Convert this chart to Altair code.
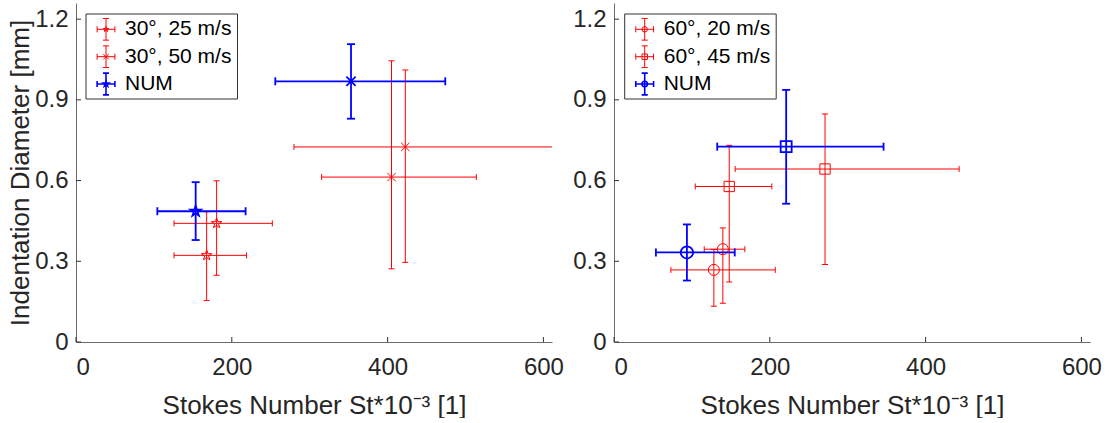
import altair as alt
import pandas as pd

FONT = "Liberation Sans"

# ---------------- data ----------------
left_series = ["30°, 25 m/s", "30°, 25 m/s", "30°, 50 m/s", "30°, 50 m/s", "NUM", "NUM"]
left_marker = ["pentagram", "pentagram", "x", "x", "pentagram", "x"]
left_x = [167.7, 180.5, 405.0, 422.7, 153.6, 353.0]
left_y = [0.322, 0.441, 0.613, 0.725, 0.486, 0.969]
left_xlo = [125.8, 125.8, 315.3, 279.8, 104.4, 255.8]
left_xhi = [219.0, 252.0, 513.9, 720.0, 217.7, 474.0]
left_ylo = [0.154, 0.248, 0.272, 0.296, 0.379, 0.830]
left_yhi = [0.484, 0.599, 1.045, 1.011, 0.594, 1.107]

right_series = ["60°, 20 m/s", "60°, 20 m/s", "60°, 45 m/s", "60°, 45 m/s", "NUM", "NUM"]
right_marker = ["circle", "circle", "square", "square", "circle", "square"]
right_x = [128.2, 139.7, 147.9, 270.9, 93.6, 221.0]
right_y = [0.268, 0.345, 0.578, 0.643, 0.333, 0.726]
right_xlo = [73.0, 115.8, 104.3, 155.5, 53.8, 132.5]
right_xhi = [207.0, 168.0, 202.6, 443.0, 155.0, 346.0]
right_ylo = [0.133, 0.144, 0.223, 0.288, 0.2285, 0.514]
right_yhi = [0.344, 0.424, 0.731, 0.8475, 0.437, 0.937]

left_legend_labels = ["30°, 25 m/s", "30°, 50 m/s", "NUM"]
left_legend_markers = ["pentagram", "x", "pentagram"]
right_legend_labels = ["60°, 20 m/s", "60°, 45 m/s", "NUM"]
right_legend_markers = ["circle", "square", "circle"]

x_ticks = [0, 200, 400, 600]
y_ticks = [0, 0.3, 0.6, 0.9, 1.2]
x_title = "Stokes Number St*10⁻³ [1]"
y_title = "Indentation Diameter [mm]"

# ---------------- styling ----------------
W, H = 476, 339
X_DOMAIN = [0, 611]
Y_DOMAIN = [0, 1.26]
RED, BLUE = "#FF0000", "#0000FF"
AXIS_COLOR = "#6b6b6b"
TEXT_COLOR = "#262626"

PENTAGRAM = ("M0,-1L0.2245,-0.309L0.9511,-0.309L0.3633,0.118L0.5878,0.809L0,0.382"
             "L-0.5878,0.809L-0.3633,0.118L-0.9511,-0.309L-0.2245,-0.309Z")
SHAPE = {"pentagram": PENTAGRAM, "x": "M-1,-1L1,1M-1,1L1,-1",
         "circle": "circle", "square": "square"}
SIZE = {("red", "pentagram"): 120, ("red", "x"): 70, ("red", "circle"): 121, ("red", "square"): 106,
        ("blue", "pentagram"): 120, ("blue", "x"): 85, ("blue", "circle"): 150, ("blue", "square"): 121}
STYLE = {"red": dict(color=RED, sw=1.0, cap=6), "blue": dict(color=BLUE, sw=1.8, cap=8)}
CROSS_PATH = ("M-0.82,0L0.82,0M-0.82,-0.28L-0.82,0.28M0.82,-0.28L0.82,0.28"
              "M0,-1L0,1M-0.28,-1L0.28,-1M-0.28,1L0.28,1")

XSCALE = alt.Scale(domain=X_DOMAIN, nice=False, zero=False)
YSCALE = alt.Scale(domain=Y_DOMAIN, nice=False, zero=False)
XAXIS = alt.Axis(values=x_ticks, tickSize=0, grid=False, domainColor=AXIS_COLOR,
                 labelFont=FONT, labelFontSize=24, labelColor=TEXT_COLOR, labelPadding=13,
                 title=x_title, titleFont=FONT, titleFontSize=26,
                 titleFontWeight="normal", titleColor=TEXT_COLOR, titlePadding=13)


def yaxis(show_title):
    return alt.Axis(values=y_ticks, tickSize=0, grid=False, format=".1f",
                    labelExpr="datum.value == 0 ? '0' : datum.label",
                    domainColor=AXIS_COLOR, labelFont=FONT, labelFontSize=24,
                    labelColor=TEXT_COLOR, labelPadding=8,
                    title=y_title if show_title else "", titleFont=FONT, titleFontSize=26,
                    titleFontWeight="normal", titleColor=TEXT_COLOR, titlePadding=1)


def panel(series, marker, xs, ys, xlo, xhi, ylo, yhi, leg_labels, leg_markers, show_ytitle, lx0):
    df = pd.DataFrame({"series": series, "marker": marker, "cx": xs, "cy": ys,
                       "xlo": xlo, "xhi": xhi, "ylo": ylo, "yhi": yhi})
    df["grp"] = ["blue" if s == "NUM" else "red" for s in df["series"]]
    YAX = yaxis(show_ytitle)

    def X(f):
        return alt.X(f, type="quantitative", scale=XSCALE, axis=XAXIS)

    def Y(f):
        return alt.Y(f, type="quantitative", scale=YSCALE, axis=YAX)

    layers = []
    for grp in ["red", "blue"]:
        st = STYLE[grp]
        sub = alt.Chart(df).transform_filter(alt.datum.grp == grp)
        layers.append(sub.mark_rule(clip=True, color=st["color"], strokeWidth=st["sw"]).encode(
            x=X("xlo"), x2="xhi", y=Y("cy")))
        layers.append(sub.mark_rule(clip=True, color=st["color"], strokeWidth=st["sw"]).encode(
            x=X("cx"), y=Y("ylo"), y2="yhi"))
        for xf, yf, path in [("xlo", "cy", "M0,-1L0,1"), ("xhi", "cy", "M0,-1L0,1"),
                             ("cx", "ylo", "M-1,0L1,0"), ("cx", "yhi", "M-1,0L1,0")]:
            layers.append(sub.mark_point(clip=True, filled=False, opacity=1, shape=path,
                                         size=st["cap"] ** 2, stroke=st["color"],
                                         strokeWidth=st["sw"]).encode(x=X(xf), y=Y(yf)))
        for mk in ["pentagram", "x", "circle", "square"]:
            if ((df["grp"] == grp) & (df["marker"] == mk)).any():
                layers.append(alt.Chart(df).transform_filter(
                    (alt.datum.grp == grp) & (alt.datum.marker == mk)).mark_point(
                    clip=True, filled=False, opacity=1, shape=SHAPE[mk], size=SIZE[(grp, mk)],
                    stroke=st["color"], strokeWidth=st["sw"]).encode(x=X("cx"), y=Y("cy")))

    # inward tick marks (MATLAB style)
    layers.append(alt.Chart(pd.DataFrame({"v": y_ticks})).mark_rule(
        color="#333333", strokeWidth=1).encode(y=Y("v"), x=alt.value(0), x2=alt.value(5)))
    layers.append(alt.Chart(pd.DataFrame({"v": x_ticks})).mark_rule(
        color="#333333", strokeWidth=1).encode(x=X("v"), y=alt.value(H), y2=alt.value(H - 5)))

    # legend box drawn inside the plot
    one = alt.Chart(pd.DataFrame({"a": [0]}))
    layers.append(one.mark_rect(fill="white", stroke="#333333", strokeWidth=1).encode(
        x=alt.value(lx0), x2=alt.value(lx0 + 151.5), y=alt.value(11), y2=alt.value(96)))
    for lab, mk, ry in zip(leg_labels, leg_markers, [26.3, 53.7, 81.0]):
        st = STYLE["blue" if lab == "NUM" else "red"]
        w = 1.6 if lab == "NUM" else 1.0
        layers.append(one.mark_point(filled=False, opacity=1, shape=CROSS_PATH, size=470,
                                     stroke=st["color"], strokeWidth=w).encode(
            x=alt.value(lx0 + 20), y=alt.value(ry)))
        layers.append(one.mark_point(filled=False, opacity=1, shape=SHAPE[mk], size=30,
                                     stroke=st["color"], strokeWidth=w).encode(
            x=alt.value(lx0 + 20), y=alt.value(ry)))
        layers.append(one.mark_text(align="left", baseline="middle", font=FONT, fontSize=21,
                                    color="#000000").encode(
            x=alt.value(lx0 + 39), y=alt.value(ry), text=alt.value(lab)))

    return alt.layer(*layers).properties(width=W, height=H)


left = panel(left_series, left_marker, left_x, left_y, left_xlo, left_xhi, left_ylo, left_yhi,
             left_legend_labels, left_legend_markers, True, 10)
right = panel(right_series, right_marker, right_x, right_y, right_xlo, right_xhi, right_ylo, right_yhi,
              right_legend_labels, right_legend_markers, False, 10.7)

chart = alt.hconcat(left, right, spacing=8).properties(
    padding={"left": 7, "top": 3, "right": 0, "bottom": 0}
).configure_view(stroke=None)

chart.save("out.html", embed_options={"renderer": "svg", "actions": False})
